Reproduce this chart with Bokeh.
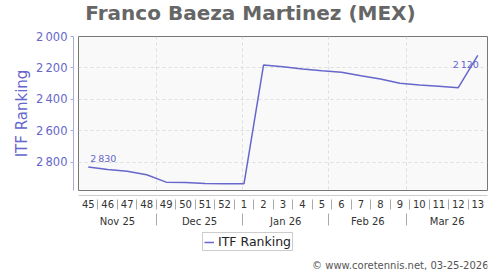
import pandas as pd
from bokeh.plotting import figure
from bokeh.layouts import column
from bokeh.models import (Range1d, LinearAxis, FixedTicker, Legend, LegendItem,
                          ColumnDataSource, Grid, Label)
from bokeh.core.properties import value
from bokeh.embed import file_html
from bokeh.resources import INLINE

# ---------------- data ----------------
title_text = "Franco Baeza Martinez (MEX)"
weeks = ["45", "46", "47", "48", "49", "50", "51", "52", "1", "2", "3", "4",
         "5", "6", "7", "8", "9", "10", "11", "12", "13"]
ranks = [2830, 2846, 2857, 2880, 2927, 2929, 2935, 2937, 2937, 2182, 2192, 2207,
         2218, 2228, 2250, 2271, 2298, 2309, 2317, 2326, 2120]
first_monday = "2025-11-03"
months = ["Nov 25", "Dec 25", "Jan 26", "Feb 26", "Mar 26"]
month_starts = ["2025-11-01", "2025-12-01", "2026-01-01", "2026-02-01",
                "2026-03-01", "2026-04-01"]
y_ticks = [2000, 2200, 2400, 2600, 2800]
series_name = "ITF Ranking"
copyright_text = "\u00a9 www.coretennis.net, 03-25-2026"

FONT = "DejaVu Sans"
LINE_COLOR = "#6666cc"
SEP_COLOR = "#aaaaaa"


def fmt(n):
    return f"{n:,}".replace(",", "\u2009")


start = pd.Timestamp(first_monday)
span = 7 * len(weeks)
centers = [7 * i + 3.5 for i in range(len(weeks))]
week_bounds = [7 * i for i in range(1, len(weeks))]
mb = [min(max((pd.Timestamp(m) - start).days, 0), span) for m in month_starts]
month_centers = [(mb[i] + mb[i + 1]) / 2 for i in range(len(months))]
month_inner = mb[1:-1]

src = ColumnDataSource(dict(x=centers, y=ranks))

# ---------------- header: title ----------------
h = figure(width=500, height=28, output_backend="svg", toolbar_location=None,
           x_range=Range1d(0, 1), y_range=Range1d(0, 1),
           x_axis_type=None, y_axis_type=None, min_border_left=78,
           min_border_right=0, min_border_top=0, min_border_bottom=0,
           outline_line_color=None, background_fill_color="white",
           border_fill_color="white")
h.add_layout(Label(x=172, y=16, x_units="screen", y_units="screen", text=title_text,
                   text_align="center", text_baseline="middle", text_font=FONT,
                   text_font_size="20px", text_font_style="bold", text_color="#666666"))

# ---------------- main chart ----------------
p = figure(width=500, height=204, output_backend="svg", toolbar_location=None,
           x_range=Range1d(0, span), y_range=Range1d(2980, 2000),
           x_axis_type=None, y_axis_type=None,
           min_border_left=78, min_border_right=13, min_border_top=8,
           min_border_bottom=42,
           background_fill_color="#f9f9f9", border_fill_color="white",
           outline_line_color="#777777")

p.add_layout(Grid(dimension=1, ticker=FixedTicker(ticks=y_ticks[1:]),
                  grid_line_color="#dddddd", grid_line_dash="3 3"))
p.add_layout(Grid(dimension=0, ticker=FixedTicker(ticks=month_inner),
                  grid_line_color="#dddddd", grid_line_dash="3 3"))


# invisible spacer axes: push the axis lines 5px away from the frame
def spacer(tick):
    return LinearAxis(ticker=FixedTicker(ticks=[tick]), major_tick_out=5,
                      major_tick_in=0, axis_line_color=None,
                      major_tick_line_color=None, minor_tick_line_color=None,
                      major_label_standoff=0, major_label_overrides={tick: ""},
                      major_label_text_font_size="0px")


p.add_layout(spacer(y_ticks[0]), "left")
p.add_layout(spacer(centers[0]), "below")

yax = LinearAxis(ticker=FixedTicker(ticks=y_ticks),
                 major_label_overrides={t: fmt(t) for t in y_ticks},
                 axis_line_color="#aaaadd", major_tick_line_color="#aaaadd",
                 major_tick_out=3, major_tick_in=0, minor_tick_line_color=None,
                 major_label_standoff=3, major_label_text_color=LINE_COLOR,
                 major_label_text_font=FONT, major_label_text_font_size="11.5px",
                 axis_label=series_name, axis_label_text_color=LINE_COLOR,
                 axis_label_text_font=FONT, axis_label_text_font_size="15px",
                 axis_label_text_font_style="normal", axis_label_standoff=2)
p.add_layout(yax, "left")

xax1 = LinearAxis(ticker=FixedTicker(ticks=centers, minor_ticks=week_bounds),
                  major_label_overrides={c: w for c, w in zip(centers, weeks)},
                  major_tick_line_color=None, major_tick_out=0, major_tick_in=0,
                  minor_tick_in=-4, minor_tick_out=14, minor_tick_line_color=SEP_COLOR,
                  axis_line_color="#cccccc", major_label_standoff=-10,
                  major_label_text_font=FONT, major_label_text_font_size="10px",
                  major_label_text_color="#333333")
p.add_layout(xax1, "below")

xax2 = LinearAxis(ticker=FixedTicker(ticks=month_centers, minor_ticks=month_inner),
                  major_label_overrides={c: m for c, m in zip(month_centers, months)},
                  major_tick_line_color=None, major_tick_out=0, major_tick_in=0,
                  minor_tick_in=-3, minor_tick_out=15, minor_tick_line_color=SEP_COLOR,
                  axis_line_color=None, major_label_standoff=-10,
                  major_label_text_font=FONT, major_label_text_font_size="10px",
                  major_label_text_color="#333333")
p.add_layout(xax2, "below")

p.line("x", "y", source=src, line_color=LINE_COLOR, line_width=1.5)

lab = ColumnDataSource(dict(x=[centers[0], centers[-1]], y=[ranks[0], ranks[-1]],
                            t=[fmt(ranks[0]), fmt(ranks[-1])],
                            xo=[2, 1], yo=[-8, 9.5], al=["left", "right"]))
p.text("x", "y", text="t", source=lab, x_offset="xo", y_offset="yo",
       text_align="al", text_baseline="middle", text_color=LINE_COLOR,
       text_font=value(FONT), text_font_size="9.5px")

# ---------------- footer: legend + credit ----------------
f = figure(width=500, height=38, output_backend="svg", toolbar_location=None,
           x_range=Range1d(0, 1), y_range=Range1d(0, 1),
           x_axis_type=None, y_axis_type=None, min_border_left=78,
           min_border_right=0, min_border_top=0, min_border_bottom=0,
           outline_line_color=None, background_fill_color="white",
           border_fill_color="white")
# same series, out of this strip's visible range: only used for the legend swatch
sample = f.line("x", "y", source=src, line_color=LINE_COLOR, line_width=1.5)
legend = Legend(items=[LegendItem(label=series_name, renderers=[sample])],
                location=(124, 19), orientation="horizontal", margin=0,
                padding=1, spacing=0, glyph_width=10, glyph_height=12,
                label_height=12, label_standoff=4,
                label_text_font=FONT, label_text_font_size="12.5px",
                label_text_color="#222222",
                border_line_color="#999999", background_fill_color="white",
                background_fill_alpha=1)
f.add_layout(legend)
f.add_layout(Label(x=410, y=5, x_units="screen", y_units="screen", text=copyright_text,
                   text_align="right", text_baseline="middle", text_font=FONT,
                   text_font_size="10px", text_color="#555555"))

layout = column(h, p, f, spacing=0)
open("out.html", "w").write(file_html(layout, INLINE))
